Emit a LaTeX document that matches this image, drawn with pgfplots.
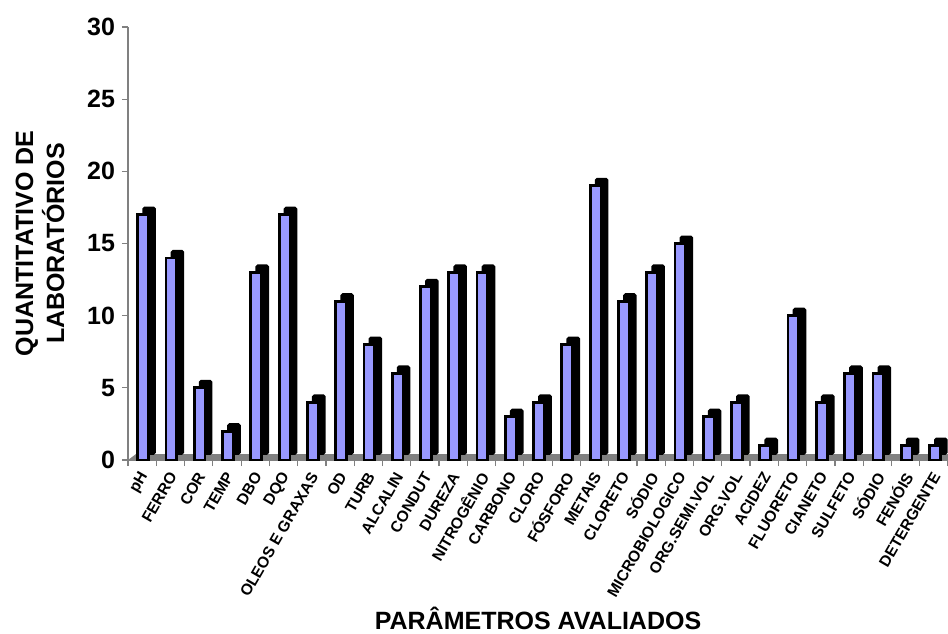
\documentclass[border=0pt]{standalone}
\usepackage{fontspec}
\setmainfont{Liberation Sans}
\usepackage{pgfplots}
\pgfplotsset{compat=1.18}
\definecolor{barblue}{HTML}{9999FF}
\definecolor{floorgray}{HTML}{808080}
\begin{document}
\begin{tikzpicture}
\begin{axis}[
  at={(0,0)}, anchor=south west,
  scale only axis,
  width=410pt, height=216.5pt,
  xmin=-0.5, xmax=28.5, ymin=0, ymax=30,
  axis x line*=bottom, axis y line*=left,
  axis line style={floorgray, line width=0.6pt},
  ytick={0,5,...,30},
  xtick={0,...,28},
  xticklabels={pH, FERRO, COR, TEMP, DBO, DQO, OLEOS E GRAXAS, OD, TURB, ALCALIN, CONDUT, DUREZA, NITROGÊNIO, CARBONO, CLORO, FÓSFORO, METAIS, CLORETO, SÓDIO, MICROBIOLOGICO, ORG.SEMI.VOL, ORG.VOL, ACIDEZ, FLUORETO, CIANETO, SULFETO, SÓDIO, FENÓIS, DETERGENTE},
  minor xtick={-0.5,0.5,...,28.5},
  major x tick style={draw=none},
  minor x tick style={floorgray, line width=0.6pt},
  y tick style={floorgray, line width=0.6pt},
  tick align=outside,
  major tick length=3pt, minor tick length=3pt,
  x tick label style={rotate=60, anchor=east, font=\bfseries\fontsize{7.8}{9}\selectfont, inner sep=1pt, yshift=-3pt, xshift=-1.5pt},
  y tick label style={font=\bfseries\fontsize{12.5}{14}\selectfont},
  /pgf/number format/assume math mode=true,
  xlabel={PARÂMETROS AVALIADOS},
  ylabel={QUANTITATIVO DE\\LABORATÓRIOS},
  label style={font=\bfseries\fontsize{12.5}{15.5}\selectfont},
  xlabel style={at={(axis description cs:0.5,0)}, anchor=base, yshift=-84.5pt},
  ylabel style={align=center, at={([xshift=-44pt]axis description cs:0,0.5)}, anchor=center},
]
\fill[floorgray] (axis cs:-0.5,0) -- (axis cs:28.5,0) -- ([shift={(4pt,3pt)}]axis cs:28.5,0) -- ([shift={(4pt,3pt)}]axis cs:-0.5,0) -- cycle;
\pgfplotstableread{
x v
0 17
1 14
2 5
3 2
4 13
5 17
6 4
7 11
8 8
9 6
10 12
11 13
12 13
13 3
14 4
15 8
16 19
17 11
18 13
19 15
20 3
21 4
22 1
23 10
24 4
25 6
26 6
27 1
28 1
}\datatable
\addplot[ybar, bar width=5.4pt, bar shift=3.5pt, yshift=3.3pt, fill=black, draw=black, line width=1.4pt, rounded corners=0.6pt] table[x=x, y=v] {\datatable};
\addplot[ybar, bar width=5.4pt, bar shift=0.5pt, fill=barblue, draw=black, line width=1.4pt] table[x=x, y=v] {\datatable};
\end{axis}
\pgfresetboundingbox
\path[use as bounding box] (-64pt,-86.5pt) rectangle (410pt,230pt);
\end{tikzpicture}
\end{document}
